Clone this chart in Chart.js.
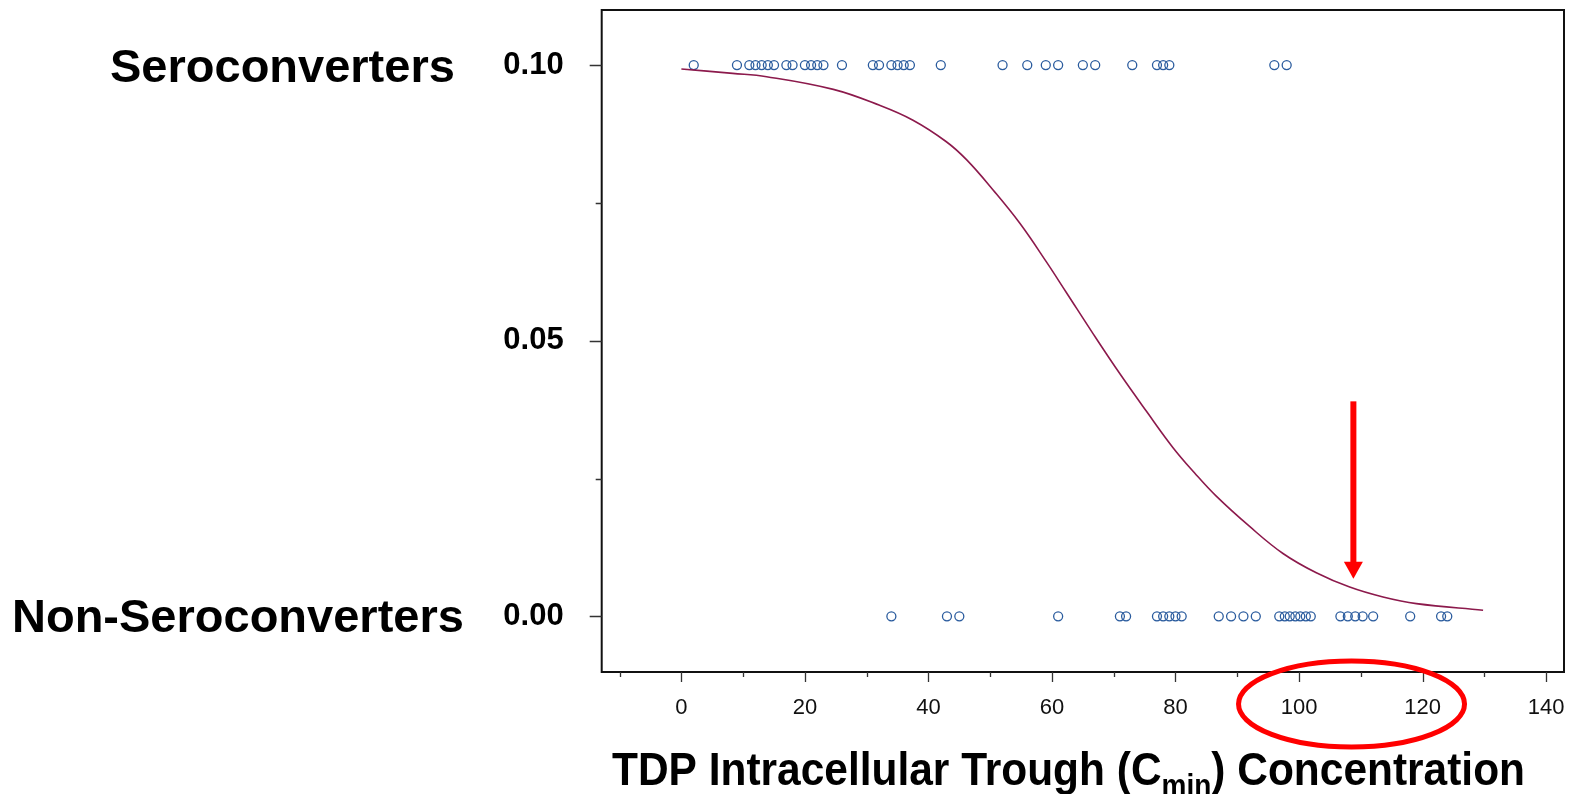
<!DOCTYPE html>
<html>
<head>
<meta charset="utf-8">
<script src="https://cdn.jsdelivr.net/npm/chart.js@4.4.1/dist/chart.umd.min.js"></script>
<style>
  body { margin: 0; background: #fff; }
  #wrap { width: 1574px; height: 794px; }
</style>
</head>
<body>
<div id="wrap"><canvas id="cminChart" width="1574" height="794"></canvas></div>
<script>
  var FONT = '"Liberation Sans", Arial, sans-serif';

  // trough concentration of each participant, by outcome
  var seroconverterCmin = [2, 9, 11, 12, 13, 14, 15, 17, 18, 20, 21, 22, 23, 26, 31, 32, 34, 35, 36, 37, 42,
    52, 56, 59, 61, 65, 67, 73, 77, 78, 79, 96, 98];
  var nonSeroconverterCmin = [34, 43, 45, 61, 71, 72, 77, 78, 79, 80, 81, 87, 89, 91, 93,
    96.8, 97.7, 98.5, 99.4, 100.2, 101.1, 101.9, 106.7, 107.9, 109.1, 110.3, 112, 118, 123, 124];
  var seroLevel = 0.10;
  var nonSeroLevel = 0.00;

  // fitted probability curve
  var fitCmin = [0, 8.3, 13.8, 24.6, 32.1, 37.5, 42.9, 46.2, 50.5, 54.8, 59.1, 62.3, 66.7, 71.0, 75.3,
    79.6, 83.1, 86.6, 92.0, 97.4, 102.8, 108.2, 113.6, 119.0, 129.8];
  var fitProb = [0.0993, 0.0985, 0.0979, 0.0956, 0.0927, 0.0900, 0.0861, 0.0828, 0.0773, 0.0713, 0.0643,
    0.0588, 0.0512, 0.0440, 0.0372, 0.0306, 0.0260, 0.0218, 0.0163, 0.0114, 0.0079, 0.0053, 0.0035, 0.0023, 0.0011];

  // axis ticks
  var xMajorTicks = [0, 20, 40, 60, 80, 100, 120, 140];
  var xMinorTicks = [-10, 10, 30, 50, 70, 90, 110, 130];
  var yMajorTicks = [0, 0.05, 0.10];
  var yMinorTicks = [0.025, 0.075];

  // highlight: arrow down to the curve and ring round 100-120
  var arrowCmin = 108.8;
  var arrowFrom = 0.039;
  var arrowTo = 0.0068;
  var ringCmin = 108.5;

  var seroPoints = seroconverterCmin.map(function (v) { return { x: v, y: seroLevel }; });
  var nonSeroPoints = nonSeroconverterCmin.map(function (v) { return { x: v, y: nonSeroLevel }; });
  var fitPoints = fitCmin.map(function (v, i) { return { x: v, y: fitProb[i] }; });

  function tickList(a, b) {
    return a.concat(b).sort(function (p, q) { return p - q; }).map(function (v) { return { value: v }; });
  }

  function drawTitle(ctx, x, y, w) {
    var parts = [
      ['TDP Intracellular Trough (C', 'bold 47px ' + FONT, 0],
      ['min', 'bold 31px ' + FONT, 11],
      [') Concentration', 'bold 47px ' + FONT, 0]
    ];
    var total = 0;
    parts.forEach(function (p) {
      ctx.font = p[1];
      p.push(ctx.measureText(p[0]).width);
      total += p[3];
    });
    ctx.save();
    ctx.translate(x, y);
    ctx.scale(w / total, 1);
    ctx.fillStyle = '#000';
    ctx.textBaseline = 'alphabetic';
    ctx.textAlign = 'left';
    var cx = 0;
    parts.forEach(function (p) {
      ctx.font = p[1];
      ctx.fillText(p[0], cx, p[2]);
      cx += p[3];
    });
    ctx.restore();
  }

  var frameAndNotes = {
    id: 'frameAndNotes',
    afterDraw: function (chart) {
      var ctx = chart.ctx;
      var a = chart.chartArea;
      var xs = chart.scales.x, ys = chart.scales.y;
      ctx.save();

      // box round the plot
      ctx.strokeStyle = '#111';
      ctx.lineWidth = 2;
      ctx.strokeRect(a.left, a.top, a.right - a.left, a.bottom - a.top);

      // tick marks
      ctx.strokeStyle = '#333';
      ctx.lineWidth = 1.3;
      ctx.beginPath();
      xMajorTicks.forEach(function (v) {
        var px = Math.round(xs.getPixelForValue(v)) + 0.5;
        ctx.moveTo(px, a.bottom); ctx.lineTo(px, a.bottom + 10);
      });
      xMinorTicks.forEach(function (v) {
        var px = Math.round(xs.getPixelForValue(v)) + 0.5;
        ctx.moveTo(px, a.bottom); ctx.lineTo(px, a.bottom + 5);
      });
      yMajorTicks.forEach(function (v) {
        var py = Math.round(ys.getPixelForValue(v)) + 0.5;
        ctx.moveTo(a.left, py); ctx.lineTo(a.left - 12, py);
      });
      yMinorTicks.forEach(function (v) {
        var py = Math.round(ys.getPixelForValue(v)) + 0.5;
        ctx.moveTo(a.left, py); ctx.lineTo(a.left - 6, py);
      });
      ctx.stroke();

      // outcome labels
      ctx.fillStyle = '#000';
      ctx.font = 'bold 47px ' + FONT;
      ctx.textAlign = 'left';
      ctx.textBaseline = 'alphabetic';
      ctx.fillText('Seroconverters', 110, ys.getPixelForValue(seroLevel) + 17);
      ctx.fillText('Non-Seroconverters', 12, ys.getPixelForValue(nonSeroLevel) + 16);

      drawTitle(ctx, 612, 785, 913);

      // red arrow
      var ax = xs.getPixelForValue(arrowCmin);
      var ay0 = ys.getPixelForValue(arrowFrom);
      var ay1 = ys.getPixelForValue(arrowTo);
      ctx.fillStyle = '#ff0000';
      ctx.fillRect(ax - 3, ay0, 6, ay1 - ay0 - 15);
      ctx.beginPath();
      ctx.moveTo(ax - 9.5, ay1 - 17);
      ctx.lineTo(ax + 9.5, ay1 - 17);
      ctx.lineTo(ax, ay1);
      ctx.closePath();
      ctx.fill();

      // red ring
      ctx.strokeStyle = '#ff0000';
      ctx.lineWidth = 5;
      ctx.beginPath();
      ctx.ellipse(xs.getPixelForValue(ringCmin), a.bottom + 32, 113, 43, 0, 0, Math.PI * 2);
      ctx.stroke();

      ctx.restore();
    }
  };

  var ctx = document.getElementById('cminChart').getContext('2d');
  window.cminChart = new Chart(ctx, {
    type: 'scatter',
    data: {
      datasets: [
        {
          label: 'Fit',
          data: fitPoints,
          showLine: true,
          borderColor: '#8C1A4C',
          borderWidth: 1.6,
          pointRadius: 0,
          tension: 0.4,
          fill: false
        },
        {
          label: 'Seroconverters',
          data: seroPoints,
          pointRadius: 4.5,
          pointBorderWidth: 1.3,
          borderColor: '#2B5C9E',
          backgroundColor: 'rgba(0,0,0,0)'
        },
        {
          label: 'Non-Seroconverters',
          data: nonSeroPoints,
          pointRadius: 4.5,
          pointBorderWidth: 1.3,
          borderColor: '#2B5C9E',
          backgroundColor: 'rgba(0,0,0,0)'
        }
      ]
    },
    options: {
      responsive: false,
      animation: false,
      layout: { padding: { left: 491.7, right: 10, top: 10, bottom: 0 } },
      plugins: { legend: { display: false }, tooltip: { enabled: false } },
      scales: {
        x: {
          type: 'linear',
          min: -12.9,
          max: 142.9,
          grid: { display: false, drawTicks: false },
          border: { display: false },
          afterBuildTicks: function (s) { s.ticks = tickList(xMajorTicks, xMinorTicks); },
          afterFit: function (s) {
            s.height = 122;
            s.paddingLeft = 0;
            s.paddingRight = 0;
          },
          ticks: {
            autoSkip: false,
            maxRotation: 0,
            padding: 23,
            color: '#111',
            font: { family: FONT, size: 22 },
            callback: function (v) { return xMajorTicks.indexOf(v) >= 0 ? String(v) : ''; }
          }
        },
        y: {
          type: 'linear',
          min: -0.0101,
          max: 0.11,
          grid: { display: false, drawTicks: false },
          border: { display: false },
          afterBuildTicks: function (s) { s.ticks = tickList(yMajorTicks, yMinorTicks); },
          afterFit: function (s) {
            s.width = 110;
            s.paddingTop = 0;
            s.paddingBottom = 0;
          },
          ticks: {
            autoSkip: false,
            padding: 38,
            color: '#000',
            font: { family: FONT, size: 31, weight: 'bold' },
            callback: function (v) {
              return yMajorTicks.some(function (m) { return Math.abs(m - v) < 1e-9; }) ? v.toFixed(2) : '';
            }
          }
        }
      }
    },
    plugins: [frameAndNotes]
  });
</script>
</body>
</html>
